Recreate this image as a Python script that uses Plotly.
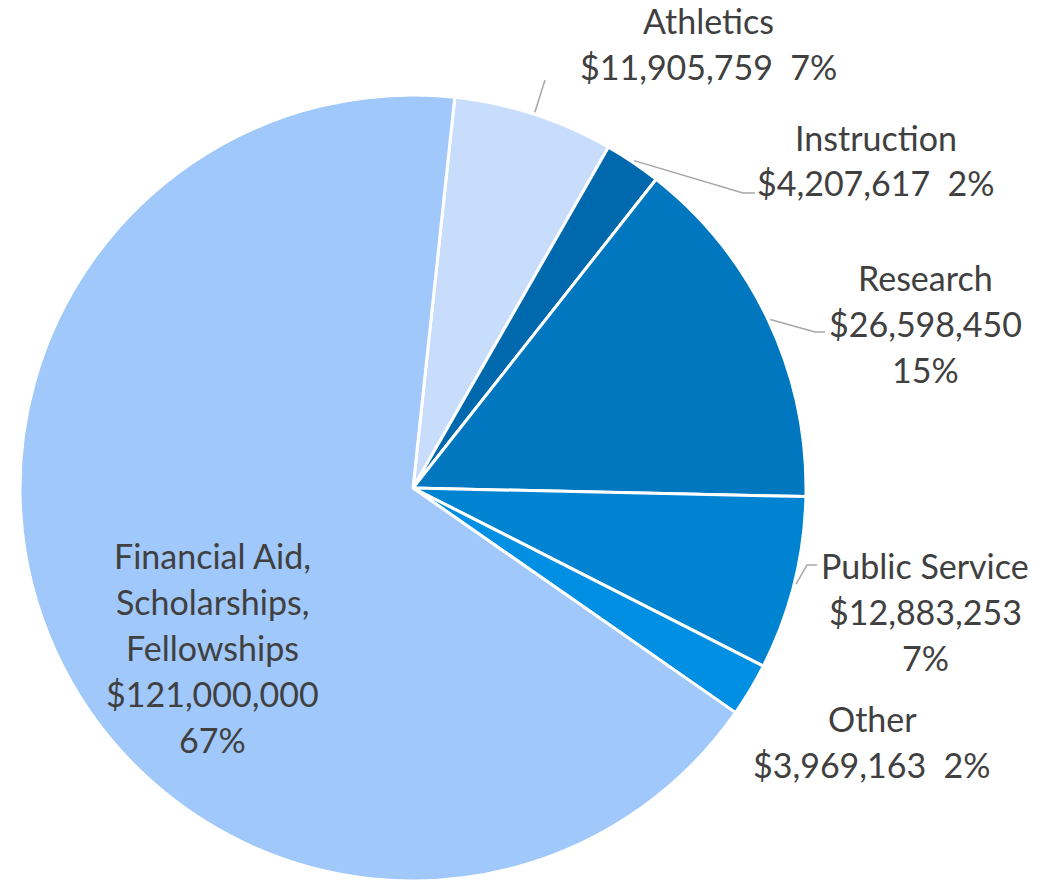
import math
import plotly.graph_objects as go

# Expense categories and amounts (USD), in clockwise drawing order
categories = ["Athletics", "Instruction", "Research", "Public Service", "Other",
              "Financial Aid, Scholarships, Fellowships"]
amounts = [11905759, 4207617, 26598450, 12883253, 3969163, 121000000]
colors = ["#c8ddfb", "#0069ae", "#0077bf", "#0084d1", "#008fe2", "#a0c8fb"]

W, H = 1058, 881
CX, CY, R = 413, 488, 393          # pie centre and radius in pixels
ROTATION = 6.1                     # start angle of the first slice (deg clockwise from 12 o'clock)
LINE_STEP = 46                     # label line spacing, px
TEXT_COLOR = "#404040"
FONT = "Lato"
FONT_SIZE = 34

total = sum(amounts)


def px(x, y):
    """Pixel position -> paper coordinates."""
    return x / W, 1 - y / H


def money(v):
    return f"${v:,}"


def pct(v):
    return f"{round(100 * v / total)}%"


SP = "\u00a0\u00a0"
label_lines = {
    "Athletics": ["Athletics", money(amounts[0]) + SP + pct(amounts[0])],
    "Instruction": ["Instruction", money(amounts[1]) + SP + pct(amounts[1])],
    "Research": ["Research", money(amounts[2]), pct(amounts[2])],
    "Public Service": ["Public Service", money(amounts[3]), pct(amounts[3])],
    "Other": ["Other", money(amounts[4]) + SP + pct(amounts[4])],
    "Financial Aid, Scholarships, Fellowships": ["Financial Aid,", "Scholarships,", "Fellowships",
                                                 money(amounts[5]), pct(amounts[5])],
}

# label block placement: centre x, first-line centre y, leader elbow/end points (px)
label_place = {
    "Athletics": (708, 20, [(545, 80)]),
    "Instruction": (876, 137, [(743, 193), (755, 193)]),
    "Research": (925, 277, [(815, 332), (825, 332)]),
    "Public Service": (925, 565, [(807, 565), (817, 565)]),
    "Other": (872, 718, []),
    "Financial Aid, Scholarships, Fellowships": (212, 555, []),
}

fig = go.Figure(go.Pie(
    labels=categories,
    values=amounts,
    sort=False,
    direction="clockwise",
    rotation=ROTATION,
    marker=dict(colors=colors, line=dict(color="white", width=3)),
    textinfo="none",
    hoverinfo="label+value+percent",
    showlegend=False,
    domain=dict(x=[(CX - R) / W, (CX + R) / W], y=[1 - (CY + R) / H, 1 - (CY - R) / H]),
))

annotations = []
shapes = []
cum = 0.0
for name, v in zip(categories, amounts):
    mid = ROTATION + 360 * (cum + v / 2) / total
    cum += v
    x0, y0, leader = label_place[name]
    for i, line in enumerate(label_lines[name]):
        ax, ay = px(x0, y0 + i * LINE_STEP)
        annotations.append(dict(
            x=ax, y=ay, xref="paper", yref="paper", text=line, showarrow=False,
            xanchor="center", yanchor="middle",
            font=dict(family=FONT, size=FONT_SIZE, color=TEXT_COLOR),
        ))
    if leader:
        a = math.radians(mid)
        sx, sy = CX + (R + 2) * math.sin(a), CY - (R + 2) * math.cos(a)
        pts = [(sx, sy)] + leader
        path = "M " + " L ".join(f"{px(x, y)[0]:.5f},{px(x, y)[1]:.5f}" for x, y in pts)
        shapes.append(dict(type="path", path=path, xref="paper", yref="paper",
                           line=dict(color="#a6a6a6", width=1.5)))

fig.update_layout(
    width=W, height=H,
    margin=dict(l=0, r=0, t=0, b=0),
    paper_bgcolor="white",
    plot_bgcolor="white",
    annotations=annotations,
    shapes=shapes,
)

fig.write_html("out.html")
